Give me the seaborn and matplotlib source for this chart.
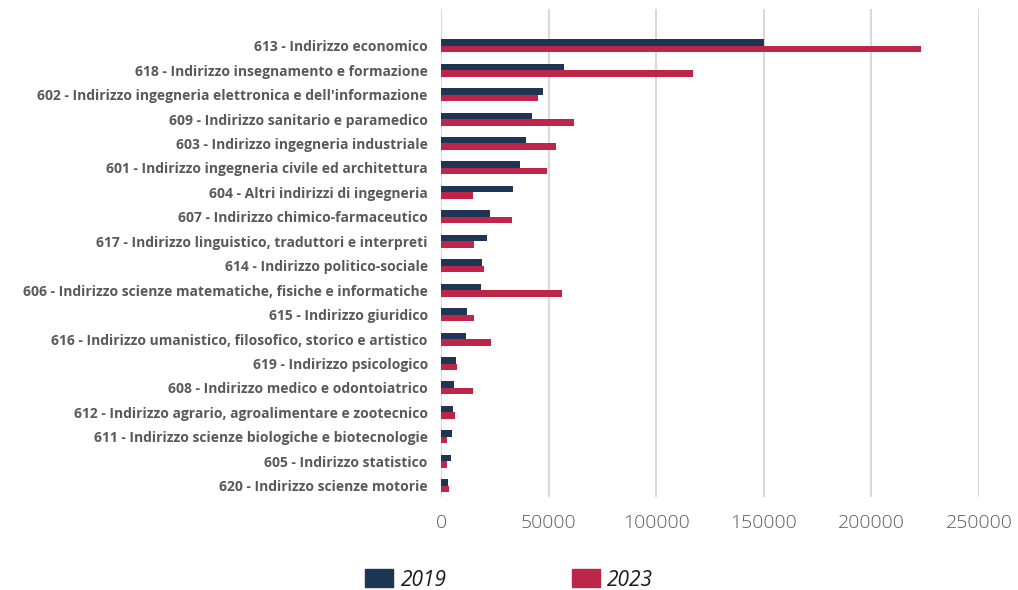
import matplotlib
matplotlib.use("Agg")
import matplotlib.pyplot as plt
import seaborn as sns
import pandas as pd

categories = [
    "613 - Indirizzo economico",
    "618 - Indirizzo insegnamento e formazione",
    "602 - Indirizzo ingegneria elettronica e dell'informazione",
    "609 - Indirizzo sanitario e paramedico",
    "603 - Indirizzo ingegneria industriale",
    "601 - Indirizzo ingegneria civile ed architettura",
    "604 - Altri indirizzi di ingegneria",
    "607 - Indirizzo chimico-farmaceutico",
    "617 - Indirizzo linguistico, traduttori e interpreti",
    "614 - Indirizzo politico-sociale",
    "606 - Indirizzo scienze matematiche, fisiche e informatiche",
    "615 - Indirizzo giuridico",
    "616 - Indirizzo umanistico, filosofico, storico e artistico",
    "619 - Indirizzo psicologico",
    "608 - Indirizzo medico e odontoiatrico",
    "612 - Indirizzo agrario, agroalimentare e zootecnico",
    "611 - Indirizzo scienze biologiche e biotecnologie",
    "605 - Indirizzo statistico",
    "620 - Indirizzo scienze motorie",
]
values_2019 = [150200, 57100, 47400, 42100, 39500, 36500, 33400, 22600, 21400,
               19000, 18600, 12100, 11600, 7000, 5900, 5400, 5100, 4600, 3100]
values_2023 = [223000, 117000, 44900, 61800, 53300, 49100, 14700, 32800, 15200,
               20000, 56200, 15500, 23200, 7400, 15000, 6500, 2800, 2900, 3600]
years = ["2019", "2023"]
colors = ["#1e3556", "#be2649"]
xticks = [0, 50000, 100000, 150000, 200000, 250000]

df = pd.DataFrame({
    "categoria": categories * 2,
    "valore": values_2019 + values_2023,
    "anno": [years[0]] * len(categories) + [years[1]] * len(categories),
})

sns.set_theme(style="white")
plt.rcParams["font.family"] = ["Open Sans", "DejaVu Sans"]

fig = plt.figure(figsize=(10.18, 5.90), dpi=100)
ax = fig.add_axes([0.4332, 0.1576, 0.5285, 0.8271])

sns.barplot(data=df, x="valore", y="categoria", hue="anno", orient="h",
            palette=colors, width=0.53, gap=0, saturation=1,
            linewidth=0, ax=ax, legend=False)

ax.set_xlim(0, 250000)
ax.set_ylim(18.46, -1.5)
ax.set_xticks(xticks)
ax.set_xticklabels([str(v) for v in xticks])
ax.set_xlabel("")
ax.set_ylabel("")
ax.grid(axis="x", color="#d9d9d9", linewidth=1.5)
ax.grid(axis="y", visible=False)
ax.set_axisbelow(True)
for s in ax.spines.values():
    s.set_visible(False)
ax.tick_params(axis="y", length=0, pad=9.5, labelsize=10, labelcolor="#595959")
ax.tick_params(axis="x", length=0, pad=12, labelsize=14, labelcolor="#595959")
for lab in ax.get_yticklabels():
    lab.set_fontweight("bold")
for lab in ax.get_xticklabels():
    lab.set_fontweight("light")

handles = [plt.Rectangle((0, 0), 1, 1, color=c) for c in colors]
leg = fig.legend(handles, years, loc="center", bbox_to_anchor=(0.5, 0.017),
                 ncol=2, frameon=False, handlelength=1.35, handleheight=0.96,
                 handletextpad=0.34, columnspacing=6.0,
                 prop={"size": 15, "style": "italic"})
for t in leg.get_texts():
    t.set_color("#1a1a1a")

fig.savefig("out.png", dpi=100)
